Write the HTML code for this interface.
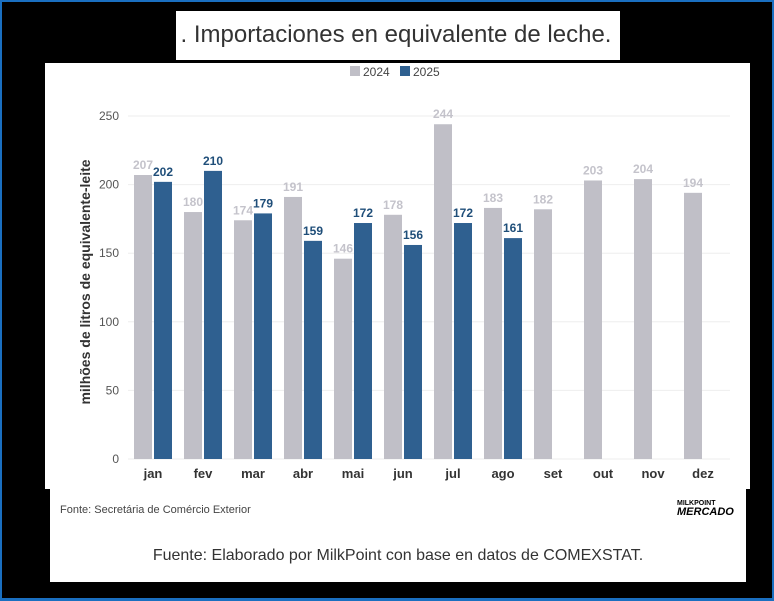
<!DOCTYPE html>
<html><head><meta charset="utf-8"><style>
body{margin:0;width:774px;height:600px;overflow:hidden;background:#000;font-family:"Liberation Sans",sans-serif}
#frame{position:absolute;left:0;top:0;width:770px;height:596px;border:2px solid #1a6fc0;border-bottom-width:3px;background:#000}
.box{position:absolute;background:#fff}
</style></head><body>
<div id="frame"></div>
<div class="box" style="left:176px;top:11px;width:444px;height:49px"></div>
<div style="position:absolute;left:166px;top:21px;width:460px;text-align:center;font-size:24px;color:#333">. Importaciones en equivalente de leche.</div>
<div class="box" style="left:45px;top:63px;width:705px;height:426px"></div>
<div class="box" style="left:50px;top:489px;width:696px;height:93px"></div>
<div style="position:absolute;left:60px;top:504px;font-size:11px;color:#444">Fonte: Secretária de Comércio Exterior</div>
<div style="position:absolute;left:677px;top:500px;font-size:7px;font-weight:bold;line-height:7px;color:#000">MILKPOINT<br><span style="font-size:11px;line-height:11px;font-style:italic">MERCADO</span></div>
<div style="position:absolute;left:50px;top:547px;width:696px;text-align:center;font-size:16px;color:#333">Fuente: Elaborado por MilkPoint con base en datos de COMEXSTAT.</div>
<svg id="chart" width="774" height="600" style="position:absolute;left:0;top:0"></svg>
<script>
const categories=["jan","fev","mar","abr","mai","jun","jul","ago","set","out","nov","dez"];
const values2024=[207,180,174,191,146,178,244,183,182,203,204,194];
const values2025=[202,210,179,159,172,156,172,161,null,null,null,null];
const yTicks=[0,50,100,150,200,250];
const NS="http://www.w3.org/2000/svg";
const svg=document.getElementById('chart');
const y0=459,k=343/250;
const yS=v=>y0-v*k;
const xG=i=>134+50*i;
function mk(t,a,txt){const e=document.createElementNS(NS,t);for(const n in a)e.setAttribute(n,a[n]);if(txt!=null)e.textContent=txt;svg.appendChild(e);return e;}
yTicks.forEach(t=>{
 const g=mk('line',{x1:128,x2:730,y1:yS(t),y2:yS(t),stroke:'#eeeeee','stroke-width':1});
 
 
 const l=mk('text',{x:119,y:yS(t)+4,'text-anchor':'end','font-size':12,fill:'#555'},t);
 
 
});
const yt=mk('text',{x:0,y:0,transform:'translate(90,282) rotate(-90)','text-anchor':'middle','font-size':14,'font-weight':'bold',fill:'#333'},'milhões de litros de equivalente-leite');


categories.forEach((c,i)=>{
 const x=xG(i);
 const v=values2024[i];
 const b=mk('rect',{x:x,y:yS(v),width:18,height:v*k,fill:'#c0bfc7'});
 
 
 const t=mk('text',{x:x+9,y:yS(v)-6,'text-anchor':'middle','font-size':12,'font-weight':'bold',fill:'#c4c3cb'},v);
 
 
 const w=values2025[i];
 if(w!=null){
  const b2=mk('rect',{x:x+20,y:yS(w),width:18,height:w*k,fill:'#2f6090'});
  
  
  const t2=mk('text',{x:x+29,y:yS(w)-6,'text-anchor':'middle','font-size':12,'font-weight':'bold',fill:'#1f4e79'},w);
  
  
 }
 const xl=mk('text',{x:x+19,y:478,'text-anchor':'middle','font-size':13,'font-weight':'bold',fill:'#333'},c);
 
 
});
const lg1=mk('rect',{x:350,y:66,width:10,height:10,fill:'#c0bfc7'});


const lt1=mk('text',{x:363,y:76,'font-size':12,fill:'#444'},'2024');


const lg2=mk('rect',{x:400,y:66,width:10,height:10,fill:'#2f6090'});


const lt2=mk('text',{x:413,y:76,'font-size':12,fill:'#444'},'2025');


</script>
</body></html>
